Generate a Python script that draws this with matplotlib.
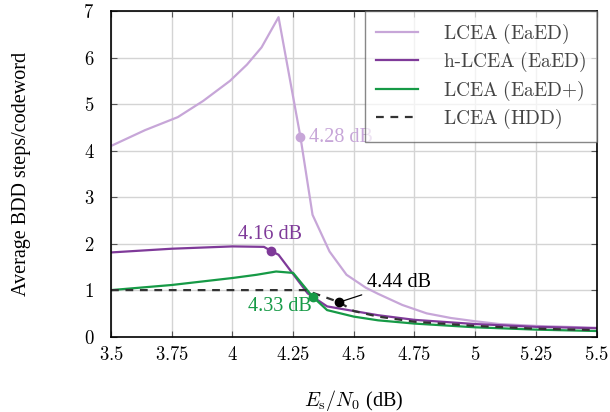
import matplotlib
matplotlib.use('Agg')
import matplotlib.pyplot as plt

plt.rcParams['font.family'] = ['Liberation Serif', 'DejaVu Serif']
plt.rcParams['mathtext.fontset'] = 'cm'

# LCEA (EaED)
x_eaed = [3.5, 3.64, 3.775, 3.88, 3.99, 4.06, 4.12, 4.19, 4.28, 4.33, 4.4, 4.47, 4.55, 4.6, 4.7,
          4.8, 4.9, 5.0, 5.1, 5.25, 5.5]
y_eaed = [4.10, 4.44, 4.72, 5.07, 5.50, 5.85, 6.22, 6.87, 4.30, 2.62, 1.83, 1.33, 1.05, 0.92, 0.68,
          0.50, 0.40, 0.33, 0.27, 0.23, 0.19]

# h-LCEA (EaED)
x_h = [3.5, 3.75, 4.0, 4.13, 4.16, 4.19, 4.31, 4.39, 4.5, 4.6, 4.75, 5.0, 5.25, 5.5]
y_h = [1.81, 1.89, 1.94, 1.93, 1.84, 1.76, 0.93, 0.65, 0.55, 0.46, 0.36, 0.27, 0.21, 0.18]

# LCEA (EaED+)
x_plus = [3.5, 3.75, 4.0, 4.1, 4.18, 4.25, 4.33, 4.39, 4.5, 4.6, 4.75, 5.0, 5.25, 5.5]
y_plus = [1.0, 1.11, 1.26, 1.33, 1.40, 1.37, 0.86, 0.57, 0.43, 0.35, 0.28, 0.20, 0.15, 0.12]

# LCEA (HDD)
x_hdd = [3.5, 4.3, 4.44, 4.5, 4.6, 4.75, 5.0, 5.25, 5.5]
y_hdd = [1.0, 1.0, 0.74, 0.55, 0.43, 0.32, 0.23, 0.17, 0.14]

# marked thresholds
mark_eaed = (4.28, 4.30)
mark_h = (4.16, 1.84)
mark_plus = (4.33, 0.86)
mark_hdd = (4.44, 0.74)

xticks = [3.5, 3.75, 4, 4.25, 4.5, 4.75, 5, 5.25, 5.5]
yticks = [0, 1, 2, 3, 4, 5, 6, 7]

c_eaed = '#c7a6d8'
c_h = '#7f3a99'
c_plus = '#169a46'
c_hdd = '#333333'

fig = plt.figure(figsize=(6.1, 4.12), dpi=100)
ax = fig.add_axes([0.182, 0.183, 0.796, 0.79])

ax.plot(x_eaed, y_eaed, color=c_eaed, lw=1.6, label=r'$\mathrm{LCEA\ (EaED)}$')
ax.plot(x_h, y_h, color=c_h, lw=1.6, label=r'$\mathrm{h}$-$\mathrm{LCEA\ (EaED)}$')
ax.plot(x_plus, y_plus, color=c_plus, lw=1.6, label=r'$\mathrm{LCEA\ (EaED{+})}$')
ax.plot(x_hdd, y_hdd, color=c_hdd, lw=1.6, ls=(0, (3.5, 3)), label=r'$\mathrm{LCEA\ (HDD)}$')

ax.plot(*mark_eaed, 'o', color=c_eaed, ms=6)
ax.plot(*mark_h, 'o', color=c_h, ms=6)
ax.plot(*mark_plus, 'o', color=c_plus, ms=6)
ax.plot(*mark_hdd, 'o', color='black', ms=6)

fs = 14.5
ax.text(4.315, 4.29, '4.28 dB', color=c_eaed, fontsize=fs, ha='left', va='center')
ax.text(4.153, 2.19, '4.16 dB', color=c_h, fontsize=fs, ha='center', va='center')
ax.text(4.194, 0.64, '4.33 dB', color=c_plus, fontsize=fs, ha='center', va='center')
ax.annotate('4.44 dB', xy=mark_hdd, xytext=(4.555, 1.16), color='black', fontsize=fs,
            ha='left', va='center',
            arrowprops=dict(arrowstyle='-', color='black', lw=0.9, shrinkA=2, shrinkB=0))

ax.set_xlim(3.5, 5.5)
ax.set_ylim(0, 7)
ax.set_xticks(xticks)
ax.set_yticks(yticks)
ax.set_xticklabels(['$%g$' % t for t in xticks], fontsize=13.5)
ax.set_yticklabels(['$%g$' % t for t in yticks], fontsize=13.5)
ax.tick_params(direction='in', top=True, right=True, length=4, color='#555555')
ax.tick_params(axis='x', pad=7)
ax.tick_params(axis='y', pad=12)
ax.grid(True, color='#d4d4d4', lw=1)
ax.set_axisbelow(True)
for s in ax.spines.values():
    s.set_linewidth(1.2)

ax.set_xlabel(r'$E_\mathrm{s}/N_0$ (dB)', fontsize=fs, labelpad=17)
ax.set_ylabel('Average BDD steps/codeword', fontsize=fs, labelpad=38)

leg = ax.legend(loc='upper right', fontsize=14, borderaxespad=0, fancybox=False,
                framealpha=0.7, edgecolor='#555555', handlelength=2.2, handletextpad=1.25,
                labelspacing=0.22, borderpad=0.55)
for t in leg.get_texts():
    t.set_color('#444444')

fig.savefig('out.png', dpi=100)
